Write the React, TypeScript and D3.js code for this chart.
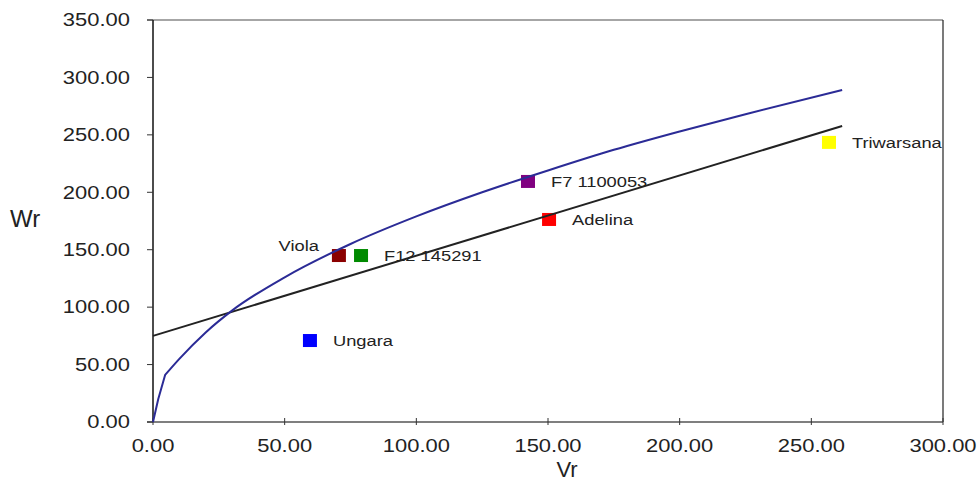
import React, { useEffect, useRef } from "react";
import * as d3 from "d3";

// varieties (scatter points)
const names = ["Ungara", "Viola", "F12 145291", "F7 1100053", "Adelina", "Triwarsana"];
const vr = [59.6, 70.6, 79.0, 142.4, 150.4, 256.7];
const wr = [70.5, 144.5, 144.5, 209.0, 175.9, 243.0];
const pointColors = ["#0000ff", "#8b0000", "#008a00", "#800080", "#ff0000", "#ffff00"];

// regression line
const lineX = [0, 261.7];
const lineY = [75.0, 257.7];

// limiting parabola curve
const curveX = [0, 2, 4.6, 10, 20, 30, 50, 75, 100, 125, 150, 175, 200, 225, 261.7];
const curveY = [0, 20, 41, 55, 78, 97, 126, 155, 179, 200, 219, 237, 253, 268, 289];

const xTicks = [0, 50, 100, 150, 200, 250, 300];
const yTicks = [0, 50, 100, 150, 200, 250, 300, 350];

const width = 980;
const height = 484;

export default function App() {
  const svgRef = useRef<SVGSVGElement | null>(null);

  useEffect(() => {
    document.body.style.margin = "0";
    const svg = d3.select(svgRef.current);
    svg.selectAll("*").remove();

    const x = d3.scaleLinear().domain([0, 300]).range([153, 943]);
    const y = d3.scaleLinear().domain([0, 350]).range([422, 20]);
    const font = "'Liberation Sans', Arial, sans-serif";
    const stretch = 1.22; // the original's text is horizontally stretched

    // frame
    svg.append("line").attr("x1", x(0) - 6).attr("x2", x(300)).attr("y1", y(350)).attr("y2", y(350))
      .attr("stroke", "#888").attr("stroke-width", 1.5);
    svg.append("line").attr("x1", x(300)).attr("x2", x(300)).attr("y1", y(350)).attr("y2", y(0))
      .attr("stroke", "#222").attr("stroke-width", 1.2);
    svg.append("line").attr("x1", x(0) - 6).attr("x2", x(300)).attr("y1", y(0)).attr("y2", y(0))
      .attr("stroke", "#555").attr("stroke-width", 1.5);
    svg.append("line").attr("x1", x(0)).attr("x2", x(0)).attr("y1", y(350)).attr("y2", y(0))
      .attr("stroke", "#111").attr("stroke-width", 1.5);

    // y ticks
    const yg = svg.append("g");
    yg.selectAll("line").data(yTicks).enter().append("line")
      .attr("x1", x(0) - 6).attr("x2", x(0)).attr("y1", d => y(d)).attr("y2", d => y(d))
      .attr("stroke", "#333");
    yg.selectAll("g").data(yTicks).enter().append("g")
      .attr("transform", d => `translate(130,${y(d)}) scale(${stretch},1)`)
      .append("text").attr("dy", "0.35em")
      .attr("text-anchor", "end").attr("font-family", font).attr("font-size", 18)
      .attr("fill", "#222").text(d => d.toFixed(2));

    // x ticks
    const xg = svg.append("g");
    xg.selectAll("line").data(xTicks).enter().append("line")
      .attr("x1", d => x(d)).attr("x2", d => x(d)).attr("y1", y(0) - 4).attr("y2", y(0) + 3)
      .attr("stroke", "#333");
    xg.selectAll("g").data(xTicks).enter().append("g")
      .attr("transform", d => `translate(${x(d)},452) scale(${stretch},1)`)
      .append("text")
      .attr("text-anchor", "middle").attr("font-family", font).attr("font-size", 18)
      .attr("fill", "#222").text(d => d.toFixed(2));

    // axis titles
    svg.append("text").attr("x", 10).attr("y", 227).attr("font-family", font)
      .attr("font-size", 24).attr("fill", "#222").text("Wr");
    svg.append("text").attr("x", 567).attr("y", 477).attr("text-anchor", "middle")
      .attr("font-family", font).attr("font-size", 22).attr("fill", "#222").text("Vr");

    // point labels
    svg.selectAll("g.lab").data(names).enter().append("g")
      .attr("class", "lab")
      .attr("transform", (d, i) => {
        const tx = d === "Viola" ? x(vr[i]) - 20 : x(vr[i]) + 23;
        const ty = d === "Viola" ? y(wr[i]) - 10 : y(wr[i]);
        return `translate(${tx},${ty}) scale(${stretch},1)`;
      })
      .append("text")
      .attr("dy", "0.35em")
      .attr("text-anchor", d => (d === "Viola" ? "end" : "start"))
      .attr("font-family", font).attr("font-size", 15)
      .attr("fill", "#222")
      .text(d => d);

    // points
    svg.selectAll("rect.pt").data(names).enter().append("rect")
      .attr("class", "pt")
      .attr("x", (d, i) => x(vr[i]) - 7).attr("y", (d, i) => y(wr[i]) - 7)
      .attr("width", 14).attr("height", 13)
      .attr("fill", (d, i) => pointColors[i]);

    // regression line
    const lineData = lineX.map((v, i) => [v, lineY[i]] as [number, number]);
    svg.append("path").datum(lineData)
      .attr("d", d3.line<[number, number]>().x(d => x(d[0])).y(d => y(d[1])))
      .attr("fill", "none").attr("stroke", "#222").attr("stroke-width", 2);

    // parabola: steep linear start, smooth after the bend at the third point
    const curveData = curveX.map((v, i) => [v, curveY[i]] as [number, number]);
    const head = d3.line<[number, number]>().x(d => x(d[0])).y(d => y(d[1]))(curveData.slice(0, 3)) || "";
    const tail = d3.line<[number, number]>().x(d => x(d[0])).y(d => y(d[1]))
      .curve(d3.curveMonotoneX)(curveData.slice(2)) || "";
    svg.append("path").attr("d", head + tail.replace(/^M[^A-Za-z]*/, ""))
      .attr("fill", "none").attr("stroke", "#2b2b96").attr("stroke-width", 2)
      .attr("stroke-linejoin", "round");
  }, []);

  return <svg ref={svgRef} width={width} height={height} style={{ display: "block" }}></svg>;
}
